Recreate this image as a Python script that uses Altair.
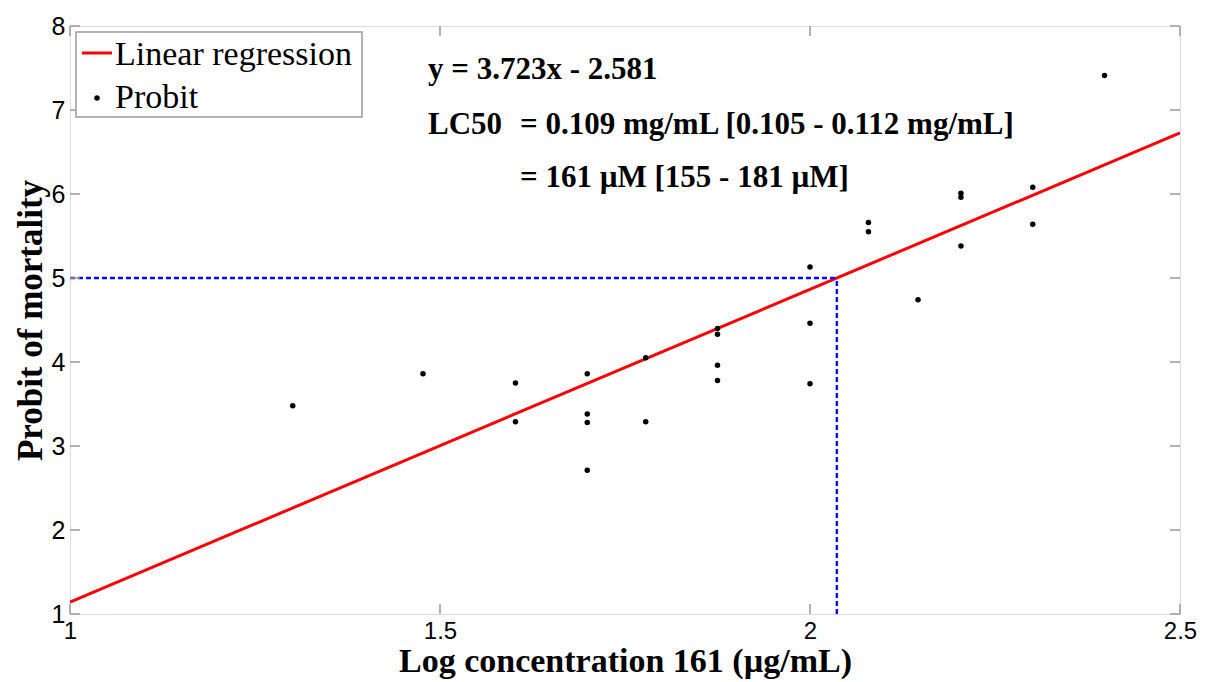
import altair as alt
import pandas as pd

# ---- data ----
log_conc = [1.301, 1.477, 1.602, 1.602, 1.699, 1.699, 1.699, 1.699, 1.778, 1.778,
            1.875, 1.875, 1.875, 1.875, 2.000, 2.000, 2.000, 2.079, 2.079, 2.146,
            2.204, 2.204, 2.204, 2.301, 2.301, 2.398]
probit = [3.48, 3.86, 3.75, 3.29, 3.86, 3.38, 3.28, 2.71, 4.05, 3.29,
          4.40, 4.33, 3.96, 3.78, 5.13, 4.46, 3.74, 5.66, 5.55, 4.74,
          6.01, 5.96, 5.38, 6.08, 5.64, 7.41]
slope = 3.723
intercept = -2.581
x_range = [1.0, 2.5]
x_ticks = [1, 1.5, 2, 2.5]
y_ticks = [1, 2, 3, 4, 5, 6, 7, 8]
eq_lines = ["y = 3.723x - 2.581", "LC50", "= 0.109 mg/mL [0.105 - 0.112 mg/mL]", "= 161 \u00b5M [155 - 181 \u00b5M]"]
legend_labels = ["Linear regression", "Probit"]

W, H = 1110, 588
FRAME = "#9a9a9a"

pts = pd.DataFrame({"x": log_conc, "y": probit})
reg = pd.DataFrame({"x": x_range, "y": [slope * v + intercept for v in x_range]})
lc50 = (5 - intercept) / slope
hline = pd.DataFrame({"x": [x_range[0]], "x2": [lc50], "y": [5.0]})
vline = pd.DataFrame({"x": [lc50], "y": [y_ticks[0]], "y2": [5.0]})

xs = alt.Scale(domain=[1, 2.5], nice=False, zero=False)
ys = alt.Scale(domain=[1, 8], nice=False, zero=False)

xaxis = alt.Axis(values=x_ticks, format="~g", title="Log concentration 161 (\u00b5g/mL)",
                 grid=False, ticks=False, domain=False, labelFont="Liberation Sans",
                 labelFontSize=24, labelColor="#000", labelPadding=5, labelFlush=False,
                 titleFont="Liberation Serif", titleFontSize=34, titleFontWeight="bold",
                 titleColor="#000", titlePadding=1)
yaxis = alt.Axis(values=y_ticks, format="~g", title="Probit of mortality",
                 grid=False, ticks=False, domain=False, labelFont="Liberation Sans",
                 labelFontSize=25, labelColor="#000", labelPadding=5, labelFlush=False,
                 titleFont="Liberation Serif", titleFontSize=35, titleFontWeight="bold",
                 titleColor="#000", titlePadding=3)

base_x = alt.X("x:Q", scale=xs, axis=xaxis)

line = alt.Chart(reg).mark_line(color="#ff0000", strokeWidth=3, clip=True).encode(
    x=base_x, y=alt.Y("y:Q", scale=ys, axis=yaxis))
points = alt.Chart(pts).mark_circle(color="black", opacity=1, size=30).encode(
    x=alt.X("x:Q", scale=xs), y=alt.Y("y:Q", scale=ys))
h = alt.Chart(hline).mark_rule(color="#0a0aff", strokeWidth=2.5, strokeDash=[5, 3]).encode(
    x=alt.X("x:Q", scale=xs), x2="x2:Q", y=alt.Y("y:Q", scale=ys))
v = alt.Chart(vline).mark_rule(color="#0a0aff", strokeWidth=2.5, strokeDash=[5, 3]).encode(
    x=alt.X("x:Q", scale=xs), y=alt.Y("y:Q", scale=ys), y2="y2:Q")

# inward ticks (MATLAB-style)
tx = pd.DataFrame({"x": x_ticks})
ty = pd.DataFrame({"y": y_ticks})
tick_layers = [
    alt.Chart(tx).mark_rule(color=FRAME, strokeWidth=1.5).encode(
        x=alt.X("x:Q", scale=xs), y=alt.value(H), y2=alt.value(H - 10)),
    alt.Chart(tx).mark_rule(color=FRAME, strokeWidth=1.5).encode(
        x=alt.X("x:Q", scale=xs), y=alt.value(0), y2=alt.value(10)),
    alt.Chart(ty).mark_rule(color=FRAME, strokeWidth=1.5).encode(
        y=alt.Y("y:Q", scale=ys), x=alt.value(0), x2=alt.value(10)),
    alt.Chart(ty).mark_rule(color=FRAME, strokeWidth=1.5).encode(
        y=alt.Y("y:Q", scale=ys), x=alt.value(W), x2=alt.value(W - 10)),
]


def txt(s, px, py, size=31, weight="bold", font="Liberation Serif"):
    return alt.Chart(pd.DataFrame({"t": [s]})).mark_text(
        align="left", baseline="alphabetic", font=font, fontSize=size,
        fontWeight=weight, color="#000").encode(
        text="t:N", x=alt.value(px), y=alt.value(py))


annots = [
    txt(eq_lines[0], 358, 53),
    txt(eq_lines[1], 358, 108),
    txt(eq_lines[2], 450, 108),
    txt(eq_lines[3], 450, 161),
]

# legend box
one = pd.DataFrame({"a": [0]})
leg_box = alt.Chart(one).mark_rect(fill="white", stroke=FRAME, strokeWidth=1.5).encode(
    x=alt.value(6), x2=alt.value(292), y=alt.value(6), y2=alt.value(91))
leg_line = alt.Chart(one).mark_rule(color="#ff0000", strokeWidth=3).encode(
    x=alt.value(12), x2=alt.value(42), y=alt.value(27))
leg_dot = alt.Chart(one).mark_circle(color="black", opacity=1, size=30).encode(
    x=alt.value(27), y=alt.value(72))
leg_txt = [
    txt(legend_labels[0], 45, 39, size=34, weight="normal"),
    txt(legend_labels[1], 45, 82, size=34, weight="normal"),
]

chart = alt.layer(
    line, h, v, points, *tick_layers, *annots, leg_box, leg_line, leg_dot, *leg_txt
).properties(
    width=W, height=H,
    autosize=alt.AutoSizeParams(type="none"),
    padding={"left": 70, "top": 26, "right": 25, "bottom": 68},
).configure_view(
    stroke=FRAME, strokeWidth=2
).configure(background="white")

chart.save("out.html", embed_options={"renderer": "svg", "actions": False})
